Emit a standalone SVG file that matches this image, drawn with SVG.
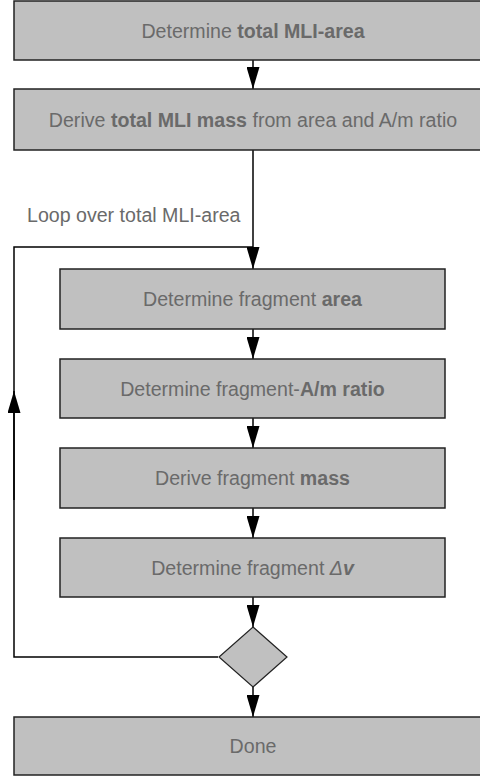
<svg xmlns="http://www.w3.org/2000/svg" width="480" height="776" viewBox="0 0 480 776">
<defs>
<style>
.box{fill:#c0c0c0;stroke:#222;stroke-width:1.5}
.t{font-family:"Liberation Sans",Arial,sans-serif;font-size:19.6px;fill:#6a6a6a;text-anchor:middle}
.lbl{font-family:"Liberation Sans",Arial,sans-serif;font-size:19.6px;fill:#6a6a6a}
.c{fill:none;stroke:#000;stroke-width:1.5}
</style>
<marker id="ah" markerWidth="22" markerHeight="13" refX="22" refY="6.5" viewBox="0 0 22 13" markerUnits="userSpaceOnUse" orient="auto">
<path d="M0,0 L22,6.5 L0,13 Z" fill="#000"/>
</marker>
</defs>
<rect width="480" height="776" fill="#fff"/>
<g id="connectors">
<path class="c" d="M253,60 V89" marker-end="url(#ah)"/>
<path class="c" d="M253,150 V269" marker-end="url(#ah)"/>
<path class="c" d="M253,329 V359" marker-end="url(#ah)"/>
<path class="c" d="M253,418 V448" marker-end="url(#ah)"/>
<path class="c" d="M253,508 V538" marker-end="url(#ah)"/>
<path class="c" d="M253,597 V627" marker-end="url(#ah)"/>
<path class="c" d="M253,687 V717" marker-end="url(#ah)"/>
<path class="c" d="M218,657 H14 V247 H253"/>
<path class="c" d="M14,500 V391" marker-end="url(#ah)"/>
<text class="lbl" x="27" y="222">Loop over total MLI-area</text>
</g>
<g id="n1"><rect class="box" x="14" y="1" width="478" height="59"/><text class="t" x="253" y="37.5">Determine <tspan font-weight="bold">total MLI-area</tspan></text></g>
<g id="n2"><rect class="box" x="14" y="89" width="478" height="61"/><text class="t" x="253" y="126.5">Derive <tspan font-weight="bold">total MLI mass</tspan> from area and A/m ratio</text></g>
<g id="n3"><rect class="box" x="60" y="269" width="385" height="60"/><text class="t" x="252.5" y="306">Determine fragment <tspan font-weight="bold">area</tspan></text></g>
<g id="n4"><rect class="box" x="60" y="359" width="385" height="59"/><text class="t" x="252.5" y="395.5">Determine fragment-<tspan font-weight="bold">A/m ratio</tspan></text></g>
<g id="n5"><rect class="box" x="60" y="448" width="385" height="60"/><text class="t" x="252.5" y="485">Derive fragment <tspan font-weight="bold">mass</tspan></text></g>
<g id="n6"><rect class="box" x="60" y="538" width="385" height="59"/><text class="t" x="252.5" y="574.5">Determine fragment <tspan font-style="italic">Δ</tspan><tspan font-style="italic" font-weight="bold">v</tspan></text></g>
<g id="decision"><path class="box" d="M253,627 L287,657 L253,687 L219,657 Z" style="stroke-width:1.2"/></g>
<g id="n7"><rect class="box" x="14" y="717" width="478" height="58"/><text class="t" x="253" y="753">Done</text></g>
</svg>
